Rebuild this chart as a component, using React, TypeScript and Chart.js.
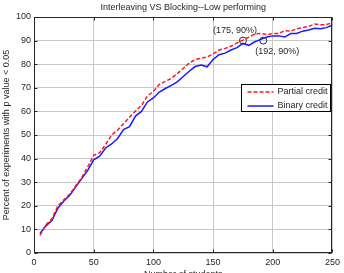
import React, { useEffect, useRef } from "react";
import { Chart, registerables } from "chart.js";

Chart.register(...registerables);

const students = [5,10,15,20,25,30,35,40,45,50,55,60,65,70,75,80,85,90,95,100,105,110,115,120,125,130,135,140,145,150,155,160,165,170,175,180,185,190,195,200,205,210,215,220,225,230,235,240,245,250];
const partialCredit = [7.5,12,14.5,20,22.5,25,28.5,32,36.5,41.4,42.5,46,50,52,54.8,57.5,60.2,62.5,66.5,68.5,71.5,72.7,74,76,78.2,80.5,82,82.5,83.1,84.3,86,86.7,87.6,89,90.2,91.5,92.8,93,92.5,93,93,94.2,94,95,95.5,96,97,96.7,96.8,97.6];
const binaryCredit = [8.3,11.5,13.8,19,22,24.5,28,31.5,35,39.5,41,44.5,46.2,48.5,52.3,53.5,58,60,64,65.7,68.2,69.7,71,72.5,74.8,77,79,79.6,78.9,82,84,84.7,86,87,88.8,88,89.5,90.5,91.5,92,92,91.5,93,93,94,94.5,95.2,95,95.5,96.6];
const markerX = [175, 192];
const markerY = [90, 90];
const markerLabels = ["(175, 90%)", "(192, 90%)"];
const seriesNames = ["Partial credit", "Binary credit"];
const titleText = "Interleaving VS Blocking--Low performing";
const xTitle = "Number of students";
const yTitle = "Percent of experiments with p value < 0.05";

const FONT = "'Liberation Sans', Arial, sans-serif";
const TEXT = "#262626";
const RED = "#ff1a1a";
const BLUE = "#1a1aff";

const decor = {
  id: "decor",
  afterDatasetsDraw(chart: any) {
    const { ctx, chartArea: a, scales } = chart;
    const xs = scales.x, ys = scales.y;
    ctx.save();
    ctx.strokeStyle = "#262626";
    ctx.lineWidth = 1;
    const L = Math.round(a.left) + 0.5, R = Math.round(a.right) - 0.5;
    const T = Math.round(a.top) + 0.5, B = Math.round(a.bottom) - 0.5;
    ctx.strokeRect(L, T, R - L, B - T);
    ctx.beginPath();
    xs.ticks.forEach((t: any) => {
      const px = Math.round(xs.getPixelForValue(t.value)) + 0.5;
      ctx.moveTo(px, B); ctx.lineTo(px, B - 3);
      ctx.moveTo(px, T); ctx.lineTo(px, T + 3);
    });
    ys.ticks.forEach((t: any) => {
      const py = Math.round(ys.getPixelForValue(t.value)) + 0.5;
      ctx.moveTo(L, py); ctx.lineTo(L + 3, py);
      ctx.moveTo(R, py); ctx.lineTo(R - 3, py);
    });
    ctx.stroke();

    ctx.font = `9px ${FONT}`;
    ctx.fillStyle = TEXT;
    ctx.textBaseline = "middle";
    const p0x = xs.getPixelForValue(markerX[0]), p0y = ys.getPixelForValue(markerY[0]);
    ctx.textAlign = "right";
    ctx.fillText(markerLabels[0], p0x + 14, p0y - 10);
    const p1x = xs.getPixelForValue(markerX[1]), p1y = ys.getPixelForValue(markerY[1]);
    ctx.textAlign = "left";
    ctx.fillText(markerLabels[1], p1x - 8, p1y + 11);

    const bw = 89, bh = 27;
    const bx = Math.round(a.right) - bw - 1.5, by = Math.round(a.top) + 67.5;
    ctx.fillStyle = "#ffffff";
    ctx.fillRect(bx, by, bw, bh);
    ctx.strokeStyle = "#000";
    ctx.strokeRect(bx, by, bw, bh);
    const rows = [
      { name: seriesNames[0], color: RED, dash: [4, 2] },
      { name: seriesNames[1], color: BLUE, dash: [] as number[] },
    ];
    rows.forEach((r, i) => {
      const y = by + 7.5 + i * 14;
      ctx.beginPath();
      ctx.setLineDash(r.dash);
      ctx.strokeStyle = r.color;
      ctx.lineWidth = 1.5;
      ctx.moveTo(bx + 6, y); ctx.lineTo(bx + 32, y);
      ctx.stroke();
      ctx.setLineDash([]);
      ctx.fillStyle = TEXT;
      ctx.textAlign = "left";
      ctx.fillText(r.name, bx + 36, y);
    });

    ctx.fillStyle = TEXT;
    ctx.textAlign = "center";
    ctx.fillText(xTitle, (a.left + a.right) / 2, 275);
    ctx.save();
    ctx.translate(7, (a.top + a.bottom) / 2);
    ctx.rotate(-Math.PI / 2);
    ctx.fillText(yTitle, 0, 0);
    ctx.restore();
    ctx.restore();
  },
};

export default function App() {
  const ref = useRef<HTMLCanvasElement>(null);
  useEffect(() => {
    if (!ref.current) return;
    const chart = new Chart(ref.current, {
      type: "line",
      data: {
        datasets: [
          {
            label: seriesNames[0],
            data: students.map((x, i) => ({ x, y: partialCredit[i] })),
            borderColor: RED,
            borderWidth: 1.5,
            borderDash: [4, 2],
            pointRadius: 0,
            fill: false,
            tension: 0,
          },
          {
            label: seriesNames[1],
            data: students.map((x, i) => ({ x, y: binaryCredit[i] })),
            borderColor: BLUE,
            borderWidth: 1.5,
            pointRadius: 0,
            fill: false,
            tension: 0,
          },
          {
            label: "markers",
            data: markerX.map((x, i) => ({ x, y: markerY[i] })),
            showLine: false,
            pointRadius: 3.5,
            pointBorderColor: "#262626",
            pointBackgroundColor: "rgba(0,0,0,0)",
            pointBorderWidth: 1,
          },
        ],
      },
      options: {
        responsive: false,
        animation: false,
        layout: { padding: { left: 0, right: 9, top: 0, bottom: 0 } },
        plugins: {
          legend: { display: false },
          tooltip: { enabled: false },
          title: {
            display: true,
            text: titleText,
            color: TEXT,
            fullSize: false,
            font: { family: FONT, size: 9, weight: "normal" },
            padding: { top: 2, bottom: 4.2 },
          },
        },
        scales: {
          x: {
            type: "linear",
            min: 0,
            max: 250,
            afterFit: (s: any) => { s.height = 20; },
            ticks: { stepSize: 50, color: TEXT, padding: 4, maxRotation: 0, font: { family: FONT, size: 9 } },
            grid: { color: "#c8c8c8", drawTicks: false },
            border: { display: false },
          },
          y: {
            min: 0,
            max: 100,
            afterFit: (s: any) => { s.width = 34; },
            ticks: { stepSize: 10, color: TEXT, padding: 3, font: { family: FONT, size: 9 } },
            grid: { color: "#c8c8c8", drawTicks: false },
            border: { display: false },
          },
        },
      },
      plugins: [decor],
    });
    return () => chart.destroy();
  }, []);
  return (
    <div style={{ position: "absolute", left: 0, top: 0, width: 344, height: 273, background: "#fff" }}>
      <canvas ref={ref} width={344} height={273} />
    </div>
  );
}
